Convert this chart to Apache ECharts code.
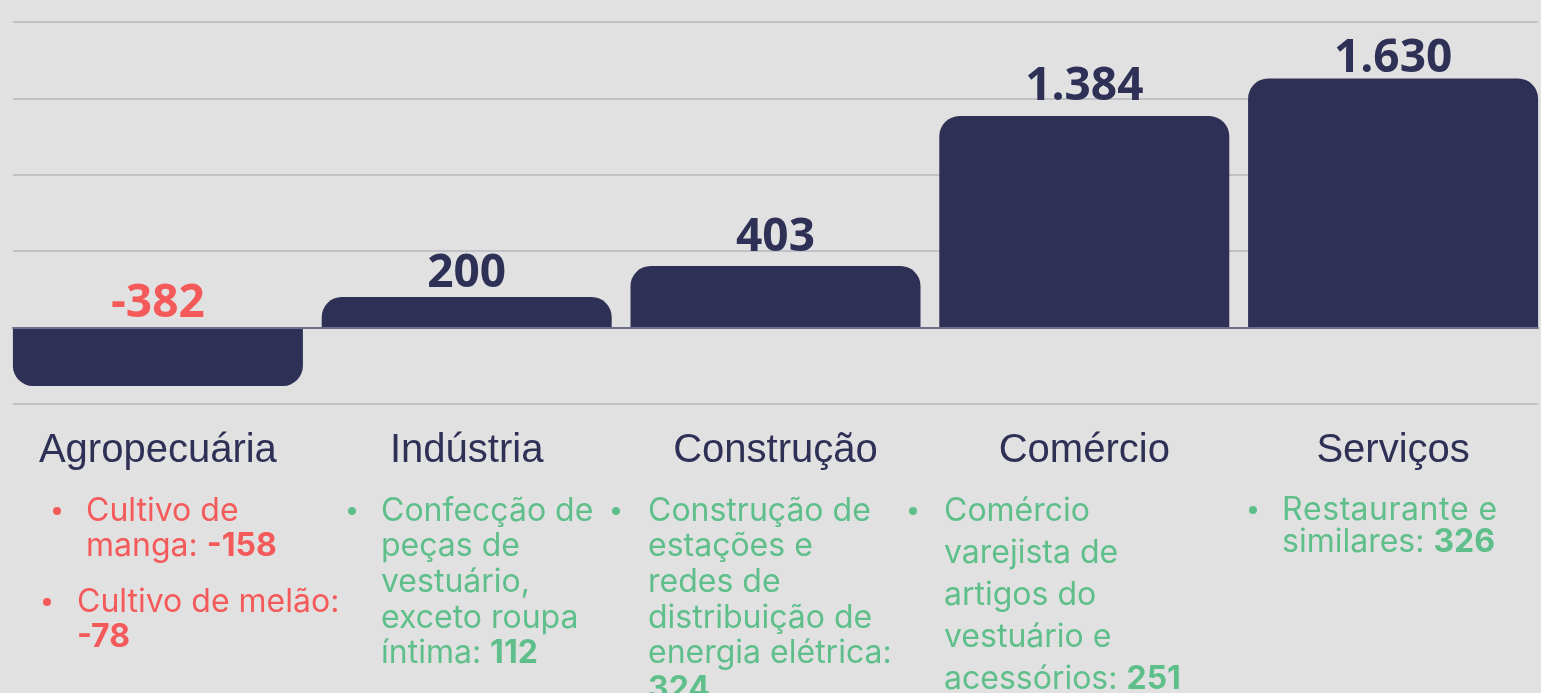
<!DOCTYPE html>
<html>
<head>
<meta charset="utf-8">
<script src="https://cdn.jsdelivr.net/npm/echarts@6/dist/echarts.min.js"></script>
<style>
  html, body { margin: 0; padding: 0; background: #e1e1e1; }
  #chart { width: 1541px; height: 693px; }
</style>
</head>
<body>
<div id="chart"></div>
<script>
// dados
const categories = ['Agropecuária', 'Indústria', 'Construção', 'Comércio', 'Serviços']
const values = [-382, 200, 403, 1384, 1630]
const yMin = -500
const yMax = 2000
const yStep = 500

// destaques por setor: linhas de texto + valor em negrito
const notesAgro = [
  { lines: ['Cultivo de', 'manga: '], value: '-158' },
  { lines: ['Cultivo de melão:', ''], value: '-78' }
]
const notesInd = [
  { lines: ['Confecção de', 'peças de', 'vestuário,', 'exceto roupa', 'íntima: '], value: '112' }
]
const notesCon = [
  { lines: ['Construção de', 'estações e', 'redes de', 'distribuição de', 'energia elétrica:', ''], value: '324' }
]
const notesCom = [
  { lines: ['Comércio', 'varejista de', 'artigos do', 'vestuário e', 'acessórios: '], value: '251' }
]
const notesSer = [
  { lines: ['Restaurante e', 'similares: '], value: '326' }
]

// cores
const navy = '#2e3056'
const red = '#f45a5a'
const green = '#5fbf8b'

// ajuste fino da distância do rótulo ao topo da barra
const labelGap = [1, 0, 5, 6, -3]

// posição dos blocos de texto (x do marcador, x do texto, y das linhas)
const noteLayout = [
  { notes: notesAgro, color: red, items: [
    { bx: 57, tx: 86, ys: [511, 546] },
    { bx: 47, tx: 77, ys: [602, 637] }
  ] },
  { notes: notesInd, color: green, items: [{ bx: 352, tx: 381, ys: [511, 546, 582, 618, 653] }] },
  { notes: notesCon, color: green, items: [{ bx: 616, tx: 648, ys: [511, 546, 582, 618, 653, 689] }] },
  { notes: notesCom, color: green, items: [{ bx: 913, tx: 944, ys: [511, 553, 595, 637, 679] }] },
  // primeira linha com espaçamento entre letras (texto justificado)
  { notes: notesSer, color: green, tracking: [0.5, 0], items: [{ bx: 1253, tx: 1282, ys: [510, 542] }] }
]

const fmt = v => String(v).replace(/\B(?=(\d{3})+(?!\d))/g, '.')
// cada letra vira um trecho rich com padding à direita
const track = (s, style) => s.split('').map(c => '{' + style + '|' + c + '}').join('')

const chart = echarts.init(document.getElementById('chart'))

// texto das notas
const graphics = []
noteLayout.forEach(col => {
  col.items.forEach((pos, k) => {
    const note = col.notes[k]
    graphics.push({
      type: 'circle',
      shape: { cx: pos.bx, cy: pos.ys[0], r: 4 },
      style: { fill: col.color },
      silent: true
    })
    note.lines.forEach((line, li) => {
      const last = li === note.lines.length - 1
      const sp = col.tracking ? col.tracking[li] : 0
      let text
      if (sp) {
        text = track(line, 's') + (last ? track(note.value, 'sb') : '')
      } else {
        text = last ? line + '{b|' + note.value + '}' : line
      }
      graphics.push({
        type: 'text',
        x: pos.tx,
        y: pos.ys[li],
        silent: true,
        style: {
          text: text,
          fill: col.color,
          font: '32px Inter',
          verticalAlign: 'middle',
          align: 'left',
          rich: {
            b: { fill: col.color, fontWeight: 'bold', fontSize: 32, fontFamily: 'Inter' },
            s: { fill: col.color, fontSize: 32, fontFamily: 'Inter', padding: [0, sp, 0, 0] },
            sb: { fill: col.color, fontWeight: 'bold', fontSize: 32, fontFamily: 'Inter', padding: [0, sp, 0, 0] }
          }
        }
      })
    })
  })
})

const option = {
  backgroundColor: '#e1e1e1',
  animation: false,
  grid: [
    { left: 3.5, width: 1544, top: 22, bottom: 289, outerBoundsMode: 'none' },
    { left: 13, right: 3, top: 22, bottom: 289, outerBoundsMode: 'none' }
  ],
  xAxis: [
    {
      type: 'category',
      gridIndex: 0,
      data: categories,
      position: 'bottom',
      axisLine: { show: false, onZero: false },
      axisTick: { show: false },
      axisLabel: {
        interval: 0,
        color: navy,
        fontSize: 40,
        fontFamily: 'Liberation Sans',
        margin: 27,
        hideOverlap: false
      }
    },
    {
      type: 'value',
      gridIndex: 1,
      min: 0,
      max: 1,
      z: 5,
      axisLine: { show: true, onZero: true, lineStyle: { color: '#6c6d8a', width: 2 } },
      axisTick: { show: false },
      axisLabel: { show: false },
      splitLine: { show: false }
    }
  ],
  yAxis: [
    {
      type: 'value',
      gridIndex: 0,
      min: yMin,
      max: yMax,
      interval: yStep,
      show: false
    },
    {
      type: 'value',
      gridIndex: 1,
      min: yMin,
      max: yMax,
      interval: yStep,
      axisLine: { show: false },
      axisTick: { show: false },
      axisLabel: { show: false },
      splitLine: { show: true, lineStyle: { color: '#b5b5bc', width: 1.5 } }
    }
  ],
  series: [
    {
      type: 'bar',
      xAxisIndex: 0,
      yAxisIndex: 0,
      barWidth: 290,
      data: values.map((v, i) => ({
        value: v,
        itemStyle: {
          color: navy,
          borderRadius: v < 0 ? [0, 0, 20, 20] : [20, 20, 0, 0]
        },
        label: {
          color: v < 0 ? red : navy,
          distance: labelGap[i]
        }
      })),
      label: {
        show: true,
        position: 'top',
        fontFamily: 'Open Sans',
        fontWeight: 'bold',
        fontSize: 46,
        formatter: p => fmt(p.value)
      }
    }
  ],
  graphic: graphics
}

chart.setOption(option)
</script>
</body>
</html>
